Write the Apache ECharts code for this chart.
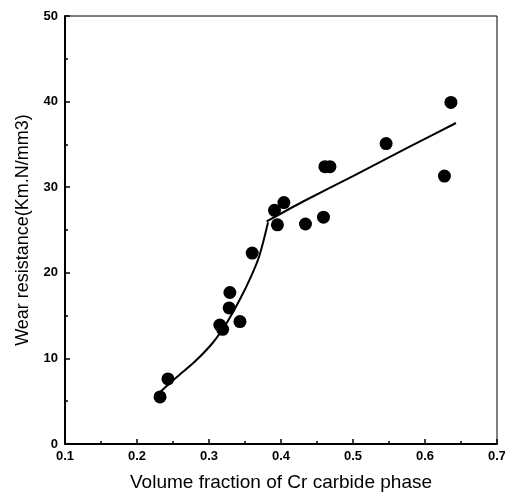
<!DOCTYPE html>
<html>
<head>
<meta charset="utf-8">
<script src="https://cdn.jsdelivr.net/npm/echarts@6/dist/echarts.min.js"></script>
<style>html,body{margin:0;padding:0;background:#fff}#c{width:505px;height:492px}</style>
</head>
<body>
<div id="c"></div>
<script>
// Measured points
const pointX = [0.232, 0.243, 0.315, 0.319, 0.329, 0.328, 0.343, 0.360, 0.391, 0.404, 0.395, 0.434, 0.459, 0.461, 0.468, 0.546, 0.627, 0.636];
const pointY = [5.5, 7.6, 13.9, 13.4, 17.7, 15.9, 14.3, 22.3, 27.3, 28.2, 25.6, 25.7, 26.5, 32.4, 32.4, 35.1, 31.3, 39.9];
// Fitted curve: lower branch and upper branch
const fitLowX = [0.231, 0.255, 0.280, 0.305, 0.325, 0.343, 0.358, 0.370, 0.382];
const fitLowY = [6.0, 7.8, 9.6, 11.8, 14.2, 16.9, 19.5, 22.0, 25.9];
const fitHighX = [0.380, 0.430, 0.500, 0.580, 0.643];
const fitHighY = [26.0, 28.3, 31.3, 34.8, 37.5];
const xTicks = [0.1, 0.2, 0.3, 0.4, 0.5, 0.6, 0.7];
const yTicks = [0, 10, 20, 30, 40, 50];

const chart = echarts.init(document.getElementById('c'), null, {renderer: 'canvas'});
const font = 'Liberation Sans, Arial, sans-serif';
chart.setOption({
  animation: false,
  backgroundColor: '#fff',
  grid: {left: 65, right: 8, top: 16, bottom: 48, show: true, borderColor: '#000', borderWidth: 1,
    outerBoundsMode: 'none', containLabel: false},
  xAxis: {
    type: 'value', min: xTicks[0], max: xTicks[xTicks.length - 1], interval: 0.1,
    name: 'Volume fraction of Cr carbide phase', nameLocation: 'middle', nameGap: 29,
    nameTextStyle: {fontFamily: font, fontSize: 19, color: '#000'},
    axisLine: {lineStyle: {color: '#000', width: 2}},
    axisTick: {inside: true, length: 5, lineStyle: {color: '#000', width: 1.5}},
    minorTick: {show: true, splitNumber: 2, length: 3, lineStyle: {color: '#000', width: 1.5}},
    splitLine: {show: false},
    axisLabel: {fontFamily: font, fontSize: 13, fontWeight: 'bold', color: '#000', margin: 6,
      formatter: v => v.toFixed(1)}
  },
  yAxis: {
    type: 'value', min: yTicks[0], max: yTicks[yTicks.length - 1], interval: 10,
    name: 'Wear resistance(Km.N/mm3)', nameLocation: 'middle', nameGap: 33,
    nameTextStyle: {fontFamily: font, fontSize: 18, color: '#000'},
    axisLine: {lineStyle: {color: '#000', width: 2}},
    axisTick: {inside: true, length: 5, lineStyle: {color: '#000', width: 1.5}},
    minorTick: {show: true, splitNumber: 2, length: 3, lineStyle: {color: '#000', width: 1.5}},
    splitLine: {show: false},
    axisLabel: {fontFamily: font, fontSize: 13, fontWeight: 'bold', color: '#000', margin: 7}
  },
  series: [
    {type: 'line', data: fitLowX.map((x, i) => [x, fitLowY[i]]), showSymbol: false, smooth: 0.3,
      lineStyle: {color: '#000', width: 2}, z: 2},
    {type: 'line', data: fitHighX.map((x, i) => [x, fitHighY[i]]), showSymbol: false, smooth: 0.2,
      lineStyle: {color: '#000', width: 2}, z: 2},
    {type: 'scatter', data: pointX.map((x, i) => [x, pointY[i]]), symbol: 'circle', symbolSize: 13,
      itemStyle: {color: '#000', opacity: 1}, z: 3}
  ]
});
</script>
</body>
</html>
